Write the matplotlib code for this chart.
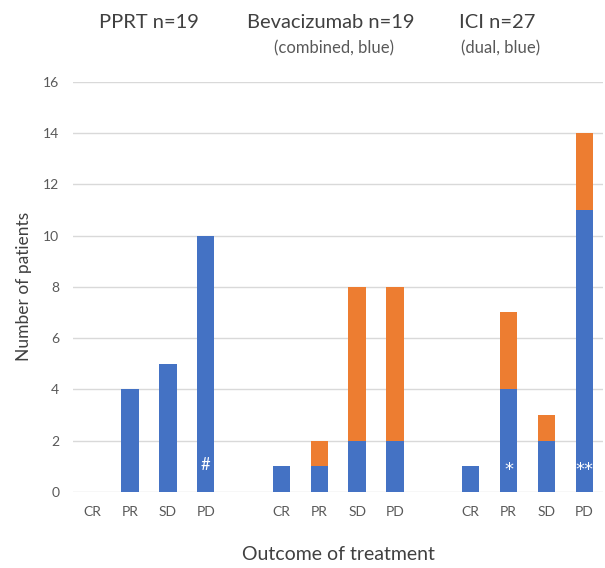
import numpy as np
import matplotlib.pyplot as plt
from matplotlib.transforms import blended_transform_factory

plt.rcParams['font.family'] = ['Lato', 'DejaVu Sans']

groups = ['PPRT n=19', 'Bevacizumab n=19', 'ICI n=27']
subtitles = ['', '(combined, blue)', '(dual, blue)']
outcomes = ['CR', 'PR', 'SD', 'PD']
blue_vals = [[0, 4, 5, 10], [1, 1, 2, 2], [1, 4, 2, 11]]
orange_vals = [[0, 0, 0, 0], [0, 1, 6, 6], [0, 3, 1, 3]]
marks = [['', '', '', '#'], ['', '', '', ''], ['', '*', '', '**']]

BLUE = '#4472C4'
ORANGE = '#ED7D31'
GREY = '#595959'

fig = plt.figure(figsize=(6.05, 5.68), dpi=100)
ax = fig.add_axes([0.121, 0.134, 0.876, 0.722])

xs, labels = [], []
for g in range(3):
    pos = np.arange(4) + g * 5
    b = np.array(blue_vals[g])
    o = np.array(orange_vals[g])
    ax.bar(pos, b, width=0.46, color=BLUE, zorder=3)
    ax.bar(pos, o, width=0.46, bottom=b, color=ORANGE, zorder=3)
    for p, m in zip(pos, marks[g]):
        if m == '#':
            ax.text(p, 1.05, m, color='white', ha='center', va='center',
                    fontsize=12, zorder=4)
        elif m:
            ax.text(p, 0.85, m, color='white', ha='center', va='center',
                    fontsize=13, family='DejaVu Sans', zorder=4)
    xs.extend(pos)
    labels.extend(outcomes)

ax.set_xlim(-0.5, 13.5)
ax.set_ylim(0, 16)
ax.set_yticks(range(0, 17, 2))
ax.set_xticks(xs)
ax.set_xticklabels(labels)
ax.tick_params(length=0, colors=GREY, labelsize=10, pad=10)
ax.grid(axis='y', color='#D9D9D9', linewidth=1, zorder=0)
for s in ax.spines.values():
    s.set_visible(False)

ax.set_ylabel('Number of patients', fontsize=12.5, color='#404040', labelpad=8)
ax.set_xlabel('Outcome of treatment', fontsize=14, color='#404040', labelpad=20)

trans = blended_transform_factory(ax.transData, fig.transFigure)
title_x = [1.5, 6.3, 10.7]
for x, t, st in zip(title_x, groups, subtitles):
    fig.text(x, 0.96, t, transform=trans, ha='center', va='center',
             fontsize=14.5, color='#404040')
    if st:
        fig.text(x + 0.1, 0.915, st, transform=trans, ha='center', va='center',
                 fontsize=12, color=GREY)

fig.savefig('out.png', dpi=100)
